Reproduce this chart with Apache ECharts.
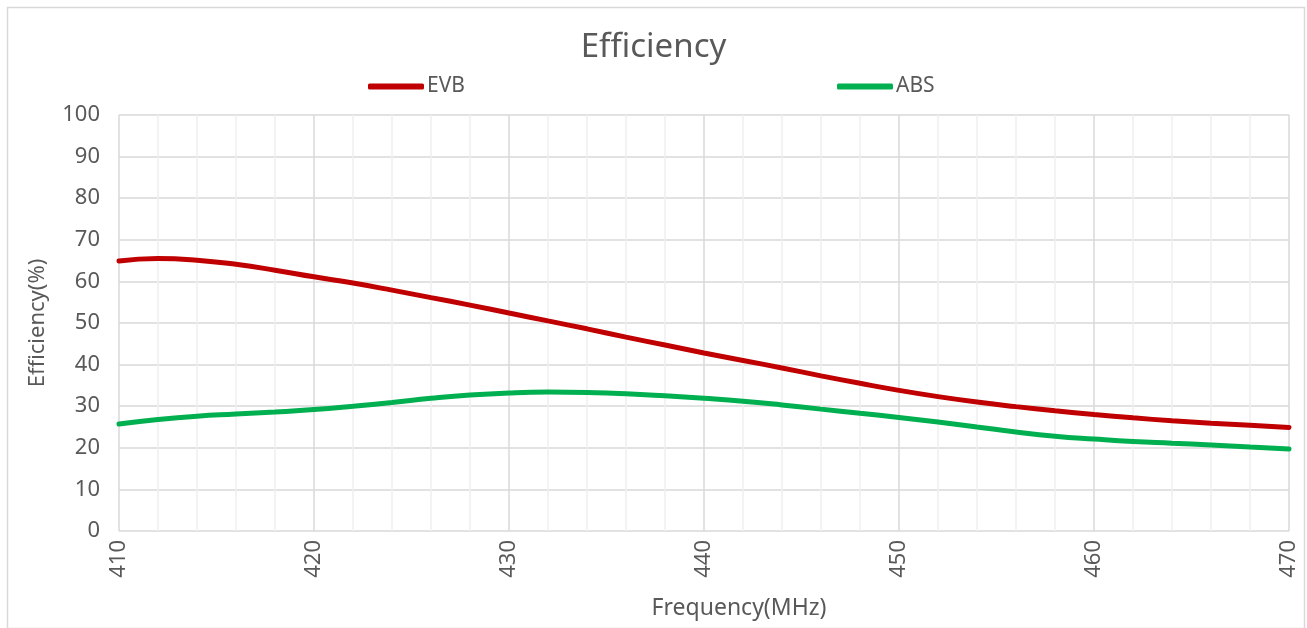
<!DOCTYPE html>
<html>
<head>
<meta charset="utf-8">
<script src="https://cdn.jsdelivr.net/npm/echarts@6/dist/echarts.min.js"></script>
<style>
html,body{margin:0;padding:0;background:#fff;}
#c{width:1307px;height:628px;}
</style>
</head>
<body>
<div id="c"></div>
<script>
const frequencies = [410,412,414,416,418,420,422,424,426,428,430,432,434,436,438,440,442,444,446,448,450,452,454,456,458,460,462,464,466,468,470];
const evb = [64.9,65.5,65.1,64.1,62.7,61.1,59.6,57.9,56.1,54.3,52.4,50.5,48.6,46.6,44.7,42.8,41.0,39.2,37.3,35.5,33.8,32.3,31.0,29.9,28.9,28.0,27.2,26.5,25.9,25.4,24.9];
const abs = [25.7,26.8,27.6,28.1,28.6,29.2,30.0,30.9,31.9,32.7,33.2,33.4,33.3,33.0,32.5,31.9,31.2,30.3,29.3,28.3,27.3,26.2,25.0,23.8,22.8,22.1,21.5,21.1,20.7,20.2,19.7];
const yTicks = [0,10,20,30,40,50,60,70,80,90,100];

const FONT = '"Noto Sans", sans-serif';
const TXT = '#595959';
const chart = echarts.init(document.getElementById('c'), null, {renderer:'canvas'});
chart.setOption({
  animation:false,
  backgroundColor:'#fff',
  title:{text:'Efficiency', left:'center', top:26, textStyle:{fontFamily:FONT, fontSize:33, fontWeight:'normal', color:TXT}},
  legend:[
    {data:['EVB'], left:363, top:71, itemWidth:56, itemHeight:6, icon:'roundRect', itemGap:4,
     textStyle:{fontFamily:FONT, fontSize:21, color:TXT, padding:[0,0,0,-2]}},
    {data:['ABS'], left:832, top:71, itemWidth:56, itemHeight:6, icon:'roundRect',
     textStyle:{fontFamily:FONT, fontSize:21, color:TXT, padding:[0,0,0,-2]}}
  ],
  graphic:[{type:'rect', left:5, top:5, shape:{width:1297, height:621}, style:{fill:'none', stroke:'#d9d9d9', lineWidth:1.5}, silent:true}],
  grid:{left:119, right:18, top:115, bottom:97},
  xAxis:{
    type:'value', min:410, max:470, interval:10,
    name:'Frequency(MHz)', nameLocation:'middle', nameGap:66,
    nameTextStyle:{fontFamily:FONT, fontSize:23, color:TXT, padding:[0,0,0,70]},
    axisLine:{show:false}, axisTick:{show:false},
    axisLabel:{rotate:90, margin:9, fontFamily:FONT, fontSize:22, color:TXT},
    splitLine:{show:true, lineStyle:{color:'#d9d9d9', width:1.5}},
    minorTick:{show:false, splitNumber:5},
    minorSplitLine:{show:true, lineStyle:{color:'#efefef', width:1.5}}
  },
  yAxis:{
    type:'value', min:0, max:100, interval:10,
    name:'Efficiency(%)', nameLocation:'middle', nameGap:70,
    nameTextStyle:{fontFamily:FONT, fontSize:22, color:TXT},
    axisLine:{show:false}, axisTick:{show:false},
    axisLabel:{margin:19, fontFamily:FONT, fontSize:22, color:TXT,
      formatter:function(v){return yTicks.indexOf(v)>=0 ? String(v) : '';}},
    splitLine:{show:true, lineStyle:{color:'#d9d9d9', width:1.5}}
  },
  series:[
    {name:'EVB', type:'line', smooth:true, symbol:'none', color:'#C00000',
     lineStyle:{width:5, color:'#C00000', cap:'round'},
     data:frequencies.map((f,i)=>[f,evb[i]])},
    {name:'ABS', type:'line', smooth:true, symbol:'none', color:'#00B050',
     lineStyle:{width:5, color:'#00B050', cap:'round'},
     data:frequencies.map((f,i)=>[f,abs[i]])}
  ]
});
</script>
</body>
</html>
